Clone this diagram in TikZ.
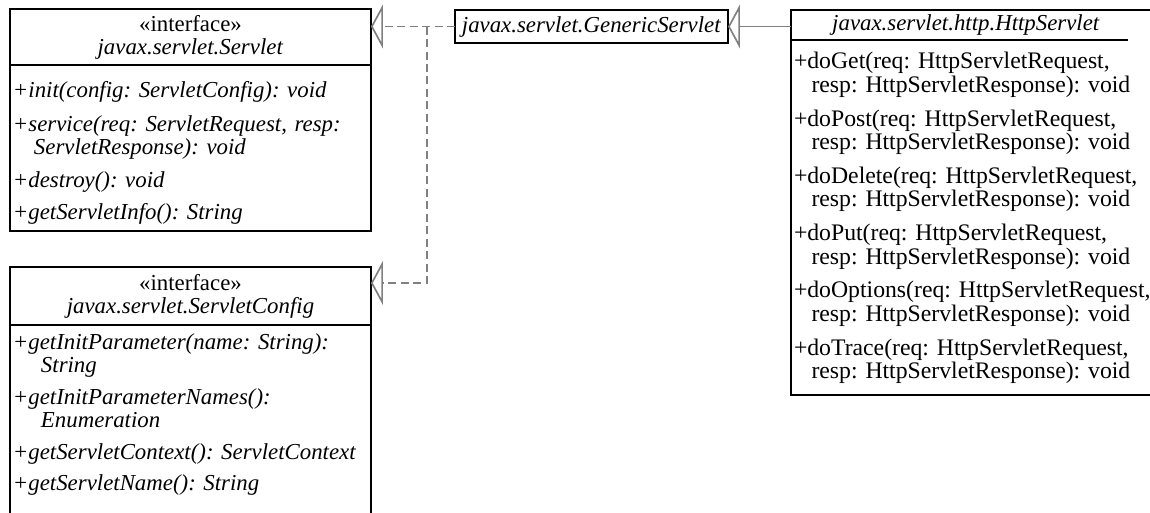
\documentclass[tikz,border=0pt]{standalone}
\usepackage{fontspec}
\setmainfont{Liberation Serif}
\usetikzlibrary{arrows.meta,positioning}
\definecolor{lnk}{RGB}{128,128,128}
\frenchspacing

\begin{document}
\begin{tikzpicture}[x=0.02cm,y=-0.02cm,font=\fontsize{13}{13}\selectfont,
  cls/.style={draw,line width=1.1pt,inner sep=0pt,outer sep=0pt},
  head/.style={cls,align=center},
  body/.style={cls,align=left,inner xsep=0.06cm,inner ysep=0.18cm,anchor=north},
  impl/.style={lnk,line width=0.95pt,dash pattern=on 0.16cm off 0.09cm,-{Triangle[open,length=0.24cm,width=0.88cm]}},
  gen/.style={lnk,line width=0.95pt,-{Triangle[open,length=0.24cm,width=0.88cm]}}]
  \useasboundingbox (0,0) rectangle (1150,512);
  % interface Servlet
  \node[head,minimum width=7.22cm,minimum height=1.12cm,anchor=north west] (srvH) at (10,9) {«interface»\\\textit{javax.servlet.Servlet}};
  \node[body,inner ysep=0.13cm,text width=7.1cm] (srvB) at (srvH.south) {\itshape
    \rule{0pt}{0.53cm}+init(config: ServletConfig): void\\[0.21cm]
    +service(req: ServletRequest, resp:\\\hspace*{0.42cm}ServletResponse): void\\[0.21cm]
    +destroy(): void\\[0.19cm]
    +getServletInfo(): String};
  % interface ServletConfig
  \node[head,minimum width=7.22cm,minimum height=1.16cm,anchor=north west] (cfgH) at (10,267) {«interface»\\\textit{javax.servlet.ServletConfig}};
  \node[body,text width=7.1cm] (cfgB) at (cfgH.south) {\itshape
    +getInitParameter(name: String):\\\hspace*{0.56cm}String\\[0.18cm]
    +getInitParameterNames():\\\hspace*{0.56cm}Enumeration\\[0.18cm]
    +getServletContext(): ServletContext\\[0.17cm]
    +getServletName(): String\rule[-1.5cm]{0pt}{1.5cm}};
  % GenericServlet
  \node[cls,minimum width=5.46cm,minimum height=0.66cm] (gs) at (591.5,26.5) {\textit{javax.servlet.GenericServlet}};
  % HttpServlet
  \node[inner sep=0pt,outer sep=0pt,minimum width=7cm,minimum height=0.6cm,anchor=north west] (httpH) at (791,10) {\textit{javax.servlet.http.HttpServlet}};
  \node[body,draw=none,text width=7.3cm,anchor=north west,font=\fontsize{13.5}{13.3}\selectfont] (httpB) at (httpH.south west) {%
    \rule{0pt}{0.4cm}+doGet(req: HttpServletRequest,\\\hspace*{0.35cm}resp: HttpServletResponse): void\\[0.21cm]
    +doPost(req: HttpServletRequest,\\\hspace*{0.35cm}resp: HttpServletResponse): void\\[0.21cm]
    +doDelete(req: HttpServletRequest,\\\hspace*{0.35cm}resp: HttpServletResponse): void\\[0.21cm]
    +doPut(req: HttpServletRequest,\\\hspace*{0.35cm}resp: HttpServletResponse): void\\[0.21cm]
    +doOptions(req: HttpServletRequest,\\\hspace*{0.35cm}resp: HttpServletResponse): void\\[0.21cm]
    +doTrace(req: HttpServletRequest,\\\hspace*{0.35cm}resp: HttpServletResponse): void\rule[-0.15cm]{0pt}{0.15cm}};
  \draw[line width=1.1pt] ([xshift=7.4cm]httpH.north west) -- (httpH.north west) -- (httpB.south west) -- ++(380,0);
  \draw[line width=1.1pt] (httpH.south west) -- ++(337,0);
  % connectors
  \coordinate (jn) at (427,26.5);
  \coordinate (cfgin) at ([yshift=-0.32cm]cfgH.north east);
  \draw[impl] (gs.west) -- (gs.west -| srvH.east);
  \draw[impl] (jn) |- (cfgin);
  \draw[gen] (gs.east -| httpH.west) -- (gs.east);
\end{tikzpicture}
\end{document}
